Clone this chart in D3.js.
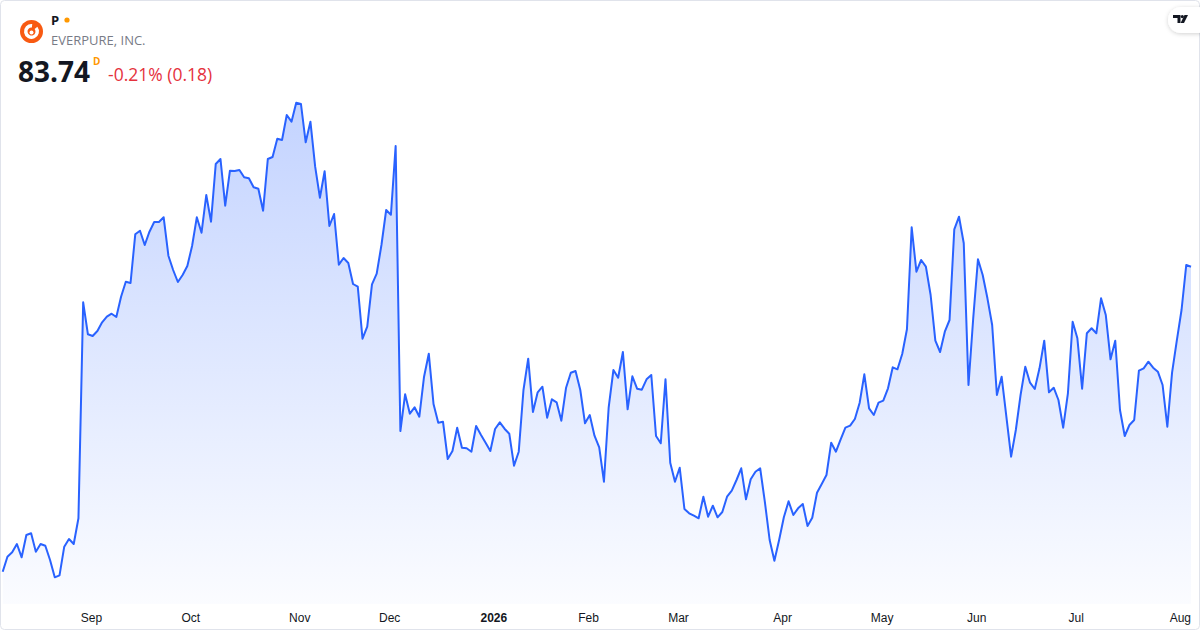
<!DOCTYPE html>
<html>
<head>
<meta charset="utf-8">
<script src="https://cdn.jsdelivr.net/npm/d3@7"></script>
<style>
  html, body { margin: 0; padding: 0; background: #fff; }
  body { width: 1200px; height: 630px; overflow: hidden; }
  #chart { position: relative; width: 1200px; height: 630px; }
</style>
</head>
<body>
<div id="chart"></div>
<script>
// Symbol info
const symbol = "P";
const company = "EVERPURE, INC.";
const lastPrice = "83.74";
const changeText = "-0.21% (0.18)";
const interval = "D";

// Trading days, starting 2025-08-06 (weekends and these holidays skipped)
const startDate = "2025-08-06";
const holidays = ["2025-09-01", "2025-11-27", "2025-12-25", "2026-01-01", "2026-01-19",
  "2026-02-16", "2026-04-03", "2026-05-25", "2026-06-19", "2026-07-03"];

// Daily closes
const closes = [
  53.24, 54.74, 55.18, 56.01, 54.68, 56.91, 57.08, 55.24, 56.01, 55.84,
  54.41, 52.68, 52.88, 55.74, 56.51, 56.01, 58.58, 80.18, 76.98, 76.81,
  77.31, 78.18, 78.74, 79.04, 78.71, 80.74, 82.24, 82.11, 86.98, 87.34,
  85.91, 87.24, 88.21, 88.21, 88.68, 84.84, 83.41, 82.21, 82.91, 83.81,
  85.81, 88.68, 87.14, 90.91, 88.24, 94.01, 94.51, 89.84, 93.34, 93.31,
  93.41, 92.68, 92.58, 91.68, 91.54, 89.34, 94.51, 94.71, 96.54, 96.41,
  98.91, 98.24, 100.14, 100.01, 96.18, 98.24, 93.74, 90.64, 93.28, 87.81,
  89.01, 83.94, 84.61, 84.11, 82.01, 81.74, 76.54, 77.74, 81.98, 83.04,
  85.91, 89.41, 88.94, 95.81, 67.31, 70.98, 69.04, 69.68, 68.74, 72.74,
  75.04, 70.01, 68.14, 68.24, 64.51, 65.31, 67.64, 65.64, 65.58, 65.24,
  67.81, 66.94, 66.14, 65.31, 67.51, 68.18, 67.54, 67.04, 63.84, 65.24,
  71.41, 74.54, 69.21, 71.18, 71.74, 68.64, 70.48, 70.18, 68.34, 71.64,
  73.14, 73.31, 71.41, 68.08, 68.91, 66.84, 65.68, 62.24, 69.68, 73.41,
  72.64, 75.21, 69.48, 72.78, 71.54, 71.44, 72.48, 72.91, 66.81, 66.08,
  72.48, 64.14, 62.24, 63.64, 59.51, 59.08, 58.84, 58.58, 60.74, 58.74,
  59.84, 58.68, 59.21, 60.74, 61.34, 62.41, 63.58, 60.48, 62.48, 63.24,
  63.58, 60.18, 56.41, 54.34, 56.41, 58.68, 60.28, 58.91, 59.58, 60.01,
  57.81, 58.64, 61.14, 62.01, 62.91, 66.14, 65.24, 66.48, 67.64, 67.84,
  68.51, 70.11, 72.98, 69.58, 68.91, 70.14, 70.34, 71.58, 73.68, 73.48,
  75.01, 77.48, 87.68, 83.24, 84.41, 83.74, 80.91, 76.34, 75.21, 77.24,
  78.41, 87.48, 88.74, 86.08, 71.91, 78.58, 84.48, 82.91, 80.58, 77.91,
  70.91, 72.74, 68.74, 64.74, 67.41, 70.91, 73.74, 72.14, 71.51, 73.58,
  76.34, 71.18, 71.64, 70.41, 67.64, 71.08, 78.24, 76.58, 71.54, 77.08,
  77.58, 77.08, 80.58, 78.91, 74.48, 76.34, 69.41, 66.81, 67.91, 68.41,
  73.34, 73.58, 74.24, 73.64, 73.24, 71.91, 67.74, 73.14, 76.34, 79.41,
  83.92, 83.74
];

// Build the trading-day list
const fmt = d3.timeFormat("%Y-%m-%d");
const dates = [];
let day = d3.timeParse("%Y-%m-%d")(startDate);
while (dates.length < closes.length) {
  const wd = day.getDay();
  if (wd !== 0 && wd !== 6 && !holidays.includes(fmt(day))) dates.push(day);
  day = d3.timeDay.offset(day, 1);
}
const data = closes.map((c, i) => ({ i: i, date: dates[i], close: c }));

// Month ticks = first trading day of each month after the first one
const ticks = data.filter((d, i) => i > 0 && d.date.getMonth() !== data[i - 1].date.getMonth());

const w = 1200;
const h = 630;
const plotLeft = 2.7, plotRight = 1191, plotBottom = 604;

const svg = d3.select("#chart").append("svg")
  .attr("width", w)
  .attr("height", h)
  .style("font-family", "'Open Sans', 'Noto Sans', sans-serif");

const defs = svg.append("defs");
const grad = defs.append("linearGradient")
  .attr("id", "fillGrad")
  .attr("gradientUnits", "userSpaceOnUse")
  .attr("x1", 0).attr("x2", 0)
  .attr("y1", 100).attr("y2", plotBottom);
grad.append("stop").attr("offset", "0%").attr("stop-color", "#2962ff").attr("stop-opacity", 0.28);
grad.append("stop").attr("offset", "100%").attr("stop-color", "#2962ff").attr("stop-opacity", 0.02);

const shadow = defs.append("filter").attr("id", "shadow")
  .attr("x", "-50%").attr("y", "-50%").attr("width", "200%").attr("height", "200%");
shadow.append("feDropShadow").attr("dx", 0).attr("dy", 1).attr("stdDeviation", 2)
  .attr("flood-color", "#000").attr("flood-opacity", 0.18);

// Card border
svg.append("rect")
  .attr("x", 0.5).attr("y", 0.5)
  .attr("width", w - 1).attr("height", h - 1)
  .attr("rx", 4)
  .attr("fill", "#fff")
  .attr("stroke", "#e0e3eb");

// Scales
const x = d3.scaleLinear().domain([0, closes.length - 1]).range([plotLeft, plotRight]);
const y = d3.scaleLinear().domain([50, 100]).range([604.1, 104.1]);

// Area + line
const area = d3.area()
  .x(d => x(d.i))
  .y0(plotBottom)
  .y1(d => y(d.close));
const line = d3.line()
  .x(d => x(d.i))
  .y(d => y(d.close));

svg.append("path")
  .datum(data)
  .attr("fill", "url(#fillGrad)")
  .attr("d", area);

svg.append("path")
  .datum(data)
  .attr("fill", "none")
  .attr("stroke", "#2962ff")
  .attr("stroke-width", 2)
  .attr("stroke-linejoin", "round")
  .attr("d", line);

// X axis labels
const xAxis = svg.append("g")
  .attr("transform", `translate(3, ${plotBottom})`)
  .call(d3.axisBottom(x)
    .tickValues(ticks.map(d => d.i))
    .tickSize(0)
    .tickPadding(9)
    .tickFormat(i => {
      const dt = data[i].date;
      return dt.getMonth() === 0 ? d3.timeFormat("%Y")(dt) : d3.timeFormat("%b")(dt);
    }));
xAxis.select(".domain").remove();
xAxis.selectAll("text")
  .attr("fill", "#131722")
  .style("font-size", "12px")
  .style("font-weight", i => data[i].date.getMonth() === 0 ? "700" : "400");

// Header
const head = svg.append("g");
head.append("circle").attr("cx", 31.5).attr("cy", 31.5).attr("r", 11.5).attr("fill", "#f85a12");
head.append("path")
  .attr("d", d3.arc()({ innerRadius: 4, outerRadius: 7.5, startAngle: 0.9, endAngle: 2 * Math.PI + 0.1 }))
  .attr("transform", "translate(31.5,31.5)")
  .attr("fill", "#fff");
head.append("circle").attr("cx", 31.5).attr("cy", 32.5).attr("r", 2).attr("fill", "#fff");

head.append("text").attr("x", 51).attr("y", 25)
  .attr("fill", "#131722").style("font-size", "13px").style("font-weight", "700")
  .text(symbol);
head.append("circle").attr("cx", 67).attr("cy", 20).attr("r", 2.6).attr("fill", "#ff9800");
head.append("text").attr("x", 51).attr("y", 45)
  .attr("fill", "#787b86").style("font-size", "13px")
  .text(company);
head.append("text").attr("x", 18).attr("y", 82)
  .attr("fill", "#131722").style("font-size", "28px").style("font-weight", "700")
  .text(lastPrice);
head.append("text").attr("x", 93).attr("y", 65)
  .attr("fill", "#ff9800").style("font-size", "10px").style("font-weight", "700")
  .text(interval);
head.append("text").attr("x", 108).attr("y", 81)
  .attr("fill", "#e5323d").style("font-size", "17.5px")
  .text(changeText);

// TradingView badge
const badge = svg.append("g");
badge.append("rect")
  .attr("x", 1168).attr("y", 7).attr("width", 44).attr("height", 26).attr("rx", 13)
  .attr("fill", "#fff").attr("filter", "url(#shadow)");
badge.append("path")
  .attr("d", "M1173,15 H1180.5 V23 H1177.5 V18 H1173 Z")
  .attr("fill", "#131722");
badge.append("circle").attr("cx", 1182.3).attr("cy", 16.6).attr("r", 1.6).attr("fill", "#131722");
badge.append("path")
  .attr("d", "M1184.5,15 H1188 L1184,23 H1180.6 Z")
  .attr("fill", "#131722");
</script>
</body>
</html>
